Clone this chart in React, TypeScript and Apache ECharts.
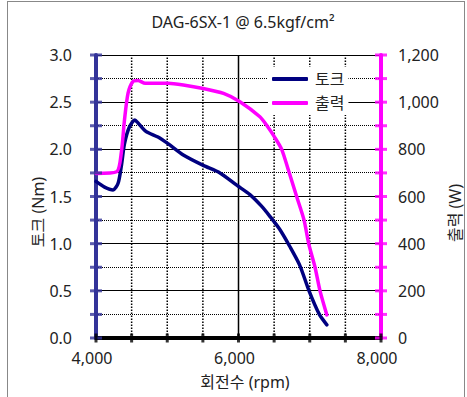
import React, { useEffect, useRef } from "react";
import * as echarts from "echarts";

const titleText = "DAG-6SX-1 @ 6.5kgf/cm²";
const xName = "회전수 (rpm)";
const yLeftName = "토크 (Nm)";
const yRightName = "출력 (W)";
const seriesNames = ["토크", "출력"];

const torqueRpm = [4000, 4120, 4240, 4310, 4355, 4400, 4470, 4545, 4590, 4700, 4870, 5010, 5225, 5505, 5740, 5975, 6160, 6320, 6440, 6580, 6720, 6860, 6990, 7135, 7240];
const torqueNm = [1.66, 1.60, 1.57, 1.64, 1.82, 2.06, 2.24, 2.31, 2.28, 2.19, 2.13, 2.06, 1.94, 1.83, 1.75, 1.62, 1.52, 1.40, 1.29, 1.15, 0.97, 0.77, 0.50, 0.25, 0.14];

const powerRpm = [4000, 4290, 4355, 4400, 4450, 4520, 4590, 4690, 5010, 5225, 5505, 5790, 6020, 6300, 6400, 6500, 6606, 6700, 6816, 6920, 6985, 7074, 7144, 7240];
const powerW = [698, 705, 785, 925, 1038, 1088, 1092, 1080, 1080, 1073, 1058, 1037, 1002, 938, 900, 855, 800, 712, 600, 500, 400, 300, 200, 98];

// tick mark values (major + minor ticks on each axis)
const torqueTicks = [0, 0.25, 0.5, 0.75, 1, 1.25, 1.5, 1.75, 2, 2.25, 2.5, 2.75, 3];
const powerTicks = [0, 100, 200, 300, 400, 500, 600, 700, 800, 900, 1000, 1100, 1200];
const rpmTicks = [4000, 4500, 5000, 5500, 6000, 6500, 7000, 7500, 8000];

// gridlines
const gridMajorY = [0.5, 1, 1.5, 2, 2.5, 3];
const gridMinorY = [0.25, 0.75, 1.25, 1.75, 2.25, 2.75];
const gridMajorX = [6000];
const gridMinorX = [4500, 5000, 5500, 6500, 7000, 7500];
const X_MIN = 4000, X_MAX = 8000, Y_MIN = 0, Y_MAX = 3;

const FONT = "'Noto Sans', 'Noto Sans CJK KR', sans-serif";
const TXT = "#222";

function fmtComma(v: number) {
  return v.toLocaleString("en-US");
}

export default function App() {
  const ref = useRef<HTMLDivElement>(null);
  useEffect(() => {
    if (!ref.current) return;
    const chart = echarts.init(ref.current, undefined, { renderer: "svg" });
    const leftC = "#333399";
    const rightC = "#ff00ff";
    const tickSeries = (name: string, yIdx: number, data: number[][], color: string, size: number[]) => ({
      name, type: "scatter", xAxisIndex: 0, yAxisIndex: yIdx, data,
      symbol: "rect", symbolSize: size, z: 10, silent: true, clip: false,
      itemStyle: { color }, emphasis: { disabled: true },
    });
    const vGridSeries = (name: string, data: number[][], dashed: boolean) => ({
      name, type: "line", xAxisIndex: 0, yAxisIndex: 0, data,
      symbol: "none", silent: true, z: 1, clip: false, emphasis: { disabled: true },
      lineStyle: dashed
        ? { color: "#000", width: 1.5, type: [1.5, 1.5] }
        : { color: "#000", width: 1.5, type: "solid" },
    });
    // horizontal gridlines drawn as filled 1px rectangles (solid) or 1px dots (dotted)
    const hGridSeries = (name: string, vals: number[], dashed: boolean) => ({
      name, type: "custom", xAxisIndex: 0, yAxisIndex: 0, z: 1, silent: true, clip: false,
      encode: { x: 0, y: 1 },
      data: vals.map((v) => [X_MIN, v]),
      renderItem: (params: any, api: any) => {
        const p0 = api.coord([X_MIN, api.value(1)]);
        const p1 = api.coord([X_MAX, api.value(1)]);
        const y = Math.floor(p0[1]);
        const x0 = Math.round(p0[0]);
        const x1 = Math.round(p1[0]);
        if (!dashed) {
          return { type: "rect", shape: { x: x0, y, width: x1 - x0, height: 1 }, style: { fill: "#000" } };
        }
        const children: any[] = [];
        for (let x = x0; x < x1; x += 2) {
          children.push({ type: "rect", shape: { x, y, width: 1, height: 1 }, style: { fill: "#000" } });
        }
        return { type: "group", children };
      },
    });
    chart.setOption({
      animation: false,
      textStyle: { fontFamily: FONT },
      grid: { left: 96, right: 86, top: 55, bottom: 59 },
      legend: {
        data: seriesNames,
        orient: "vertical",
        left: 268,
        top: 67,
        icon: "roundRect",
        itemWidth: 36,
        itemHeight: 4,
        itemGap: 4,
        padding: [2, 4, 2, 4],
        backgroundColor: "#fff",
        selectedMode: false,
        z: 20,
        textStyle: { fontSize: 16, color: TXT, fontFamily: FONT, lineHeight: 20, padding: [0, 0, 0, 2] },
      },
      graphic: [
        { type: "text", x: 243, y: 22, style: { text: titleText, fontSize: 16, fontFamily: FONT, fill: TXT, textAlign: "center", textVerticalAlign: "middle" } },
        { type: "text", x: 245, y: 382, style: { text: xName, fontSize: 16, fontFamily: FONT, fill: TXT, textAlign: "center", textVerticalAlign: "middle" } },
        { type: "text", x: 38, y: 212, rotation: Math.PI / 2, style: { text: yLeftName, fontSize: 16, fontFamily: FONT, fill: TXT, textAlign: "center", textVerticalAlign: "middle" } },
        { type: "text", x: 455, y: 213, rotation: Math.PI / 2, style: { text: yRightName, fontSize: 16, fontFamily: FONT, fill: TXT, textAlign: "center", textVerticalAlign: "middle" } },
      ],
      xAxis: {
        type: "value", min: X_MIN, max: X_MAX, interval: 2000, position: "bottom", z: 3,
        axisLine: { show: true, onZero: false, lineStyle: { color: "#000", width: 4 } },
        axisTick: { show: false },
        axisLabel: { fontSize: 16, color: TXT, margin: 12, padding: [0, 8, 0, 0], formatter: (v: number) => fmtComma(v) },
        splitLine: { show: false },
      },
      yAxis: [
        {
          type: "value", min: Y_MIN, max: Y_MAX, interval: 0.5, position: "left", z: 3,
          axisLine: { show: true, onZero: false, lineStyle: { color: leftC, width: 4 } },
          axisTick: { show: false },
          axisLabel: { fontSize: 16, color: TXT, margin: 24, formatter: (v: number) => v.toFixed(1) },
          splitLine: { show: false },
        },
        {
          type: "value", min: 0, max: 1200, interval: 200, position: "right", z: 3,
          axisLine: { show: true, onZero: false, lineStyle: { color: rightC, width: 4 } },
          axisTick: { show: false },
          axisLabel: { fontSize: 16, color: TXT, margin: 17, formatter: (v: number) => fmtComma(v) },
          splitLine: { show: false },
        },
      ],
      series: [
        hGridSeries("gy", gridMajorY, false),
        hGridSeries("gmy", gridMinorY, true),
        ...gridMajorX.map((v, i) => vGridSeries("gx" + i, [[v, Y_MIN], [v, Y_MAX]], false)),
        ...gridMinorX.map((v, i) => vGridSeries("gmx" + i, [[v, Y_MIN], [v, Y_MAX]], true)),
        {
          name: seriesNames[0], type: "line", xAxisIndex: 0, yAxisIndex: 0,
          data: torqueRpm.map((x, i) => [x, torqueNm[i]]),
          symbol: "none", smooth: 0.25, z: 5,
          lineStyle: { color: "#000080", width: 3.5, cap: "round" },
          itemStyle: { color: "#000080" },
        },
        {
          name: seriesNames[1], type: "line", xAxisIndex: 0, yAxisIndex: 1,
          data: powerRpm.map((x, i) => [x, powerW[i]]),
          symbol: "none", smooth: 0.25, z: 5,
          lineStyle: { color: "#ff00ff", width: 3.5, cap: "round" },
          itemStyle: { color: "#ff00ff" },
        },
        tickSeries("tickLeft", 0, torqueTicks.map((v) => [X_MIN, v]), leftC, [12, 3]),
        tickSeries("tickRight", 1, powerTicks.map((v) => [X_MAX, v]), rightC, [12, 3]),
        tickSeries("tickBottom", 0, rpmTicks.map((x) => [x, Y_MIN]), "#000", [3, 9]),
      ],
    });
    return () => chart.dispose();
  }, []);
  return (
    <div style={{ position: "fixed", left: 0, top: 0, width: 467, height: 397, background: "#fff", overflow: "hidden" }}>
      <div style={{ position: "absolute", left: 7, top: 1, width: 458, height: 420, border: "1px solid #888", boxSizing: "border-box" }} />
      <div ref={ref} style={{ position: "absolute", left: 0, top: 0, width: 467, height: 397 }} />
    </div>
  );
}
